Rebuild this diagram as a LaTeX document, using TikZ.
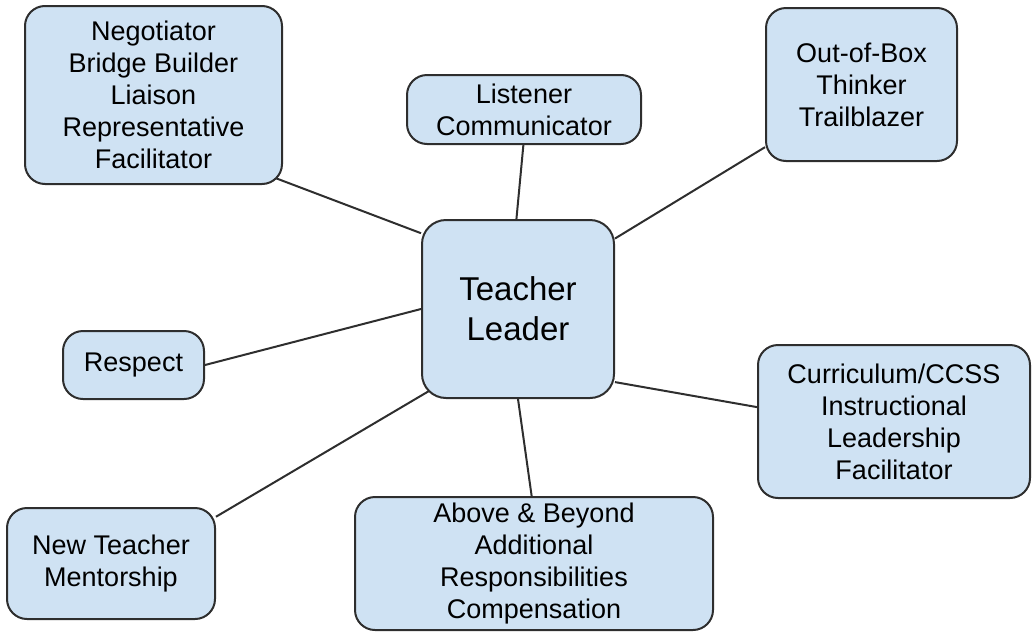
\documentclass[tikz,border=0pt]{standalone}
\usepackage{fontspec}
\setmainfont{Liberation Sans}
\usetikzlibrary{backgrounds,calc}

\definecolor{boxblue}{HTML}{CFE2F3}
\definecolor{edgegray}{HTML}{2E2E2E}

\begin{document}
\begin{tikzpicture}[x=0.5pt,y=-0.5pt,
	role/.style={draw=edgegray,line width=1pt,fill=boxblue,rounded corners=10pt,
		align=center,inner sep=0pt,font=\fontsize{13.5}{16}\selectfont},
	hub/.style={role,rounded corners=12pt,font=\fontsize{16.5}{20}\selectfont},
	link/.style={draw=edgegray,line width=1pt}]
	\useasboundingbox (0,0) rectangle (1033,632);
	
	\node[hub,minimum width=96pt,minimum height=89pt] (leader) at (518,309) {Teacher\\Leader};
	
	\node[role,minimum width=128.5pt,minimum height=89pt] (negotiator) at (153.5,95)
		{Negotiator\\Bridge Builder\\Liaison\\Representative\\Facilitator};
	\node[role,minimum width=117pt,minimum height=34.5pt] (listener) at (524,109.5)
		{Listener\\Communicator};
	\node[role,minimum width=95.5pt,minimum height=76.5pt] (outofbox) at (861.5,84.5)
		{Out-of-Box\\Thinker\\Trailblazer};
	\node[role,minimum width=70.5pt,minimum height=34pt] (respect) at (133.5,365)
		{Respect};
	\node[role,minimum width=136pt,minimum height=76.5pt] (curriculum) at (894,421.5)
		{Curriculum/CCSS\\Instructional\\Leadership\\Facilitator};
	\node[role,minimum width=104pt,minimum height=55.5pt] (mentor) at (111,563.5)
		{New Teacher\\Mentorship};
	\node[role,minimum width=179pt,minimum height=66.5pt] (beyond) at (534,563.5)
		{Above \& Beyond\\Additional\\Responsibilities\\Compensation};
	
	\begin{pgfonlayer}{background}
		\draw[link] ($(negotiator.center)!0.9!(negotiator.south east)$) -- (leader.142.5);
		\draw[link] (listener.-91) -- (leader.91);
		\draw[link] (outofbox.-147.5) -- (leader.36);
		\draw[link] (respect.0) -- (leader.180);
		\draw[link] (curriculum.174) -- (leader.-37);
		\draw[link] (beyond.92.5) -- (leader.-90.5);
		\draw[link] (mentor.24) -- ($(leader.center)!0.9!(leader.south west)$);
	\end{pgfonlayer}
\end{tikzpicture}
\end{document}
